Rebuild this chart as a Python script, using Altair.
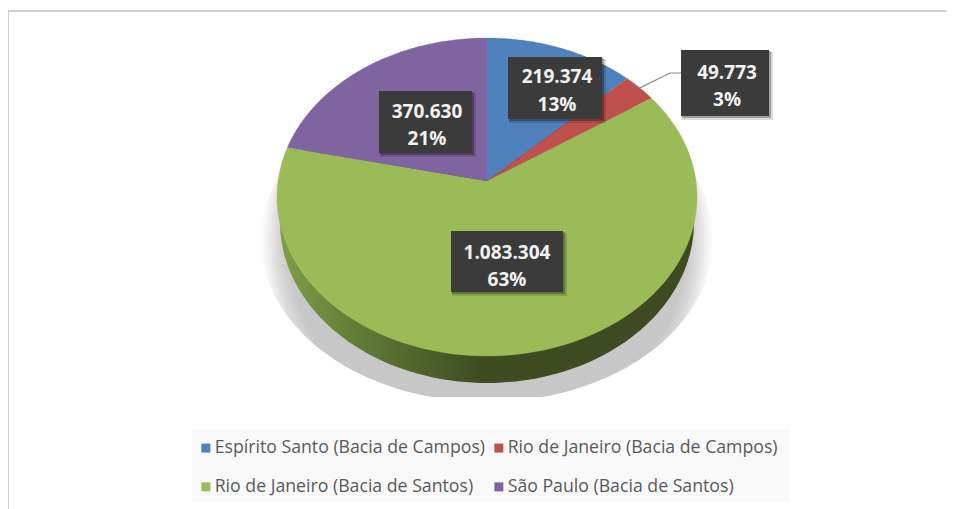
import altair as alt, numpy as np, pandas as pd

names = ["Espírito Santo (Bacia de Campos)", "Rio de Janeiro (Bacia de Campos)",
         "Rio de Janeiro (Bacia de Santos)", "São Paulo (Bacia de Santos)"]
values = [219374, 49773, 1083304, 370630]
value_labels = ["219.374", "49.773", "1.083.304", "370.630"]
pct_labels = ["13%", "3%", "63%", "21%"]
colors = ["#4f81bd", "#c0504d", "#9bbb59", "#8064a2"]
box_left = [508, 681, 451, 379]
box_right = [602, 769, 563, 472]
box_top = [57, 50, 231, 91]
box_bottom = [119, 116, 292, 153]
line1_y = [77, 73, 253, 112]
line2_y = [105, 100, 280, 139]
label_x = [557, 727, 507, 427]

W, H = 939, 501
xs = alt.Scale(domain=[8, 947], range=[0, W], nice=False, zero=False)
ys = alt.Scale(domain=[8, 509], range=[0, H], nice=False, zero=False)
X = lambda f="x": alt.X(f"{f}:Q", scale=xs, axis=None)
Y = lambda f="y": alt.Y(f"{f}:Q", scale=ys, axis=None)

# perspective view of the round top face
AX, AY, DX, DY, C = 487, 181, 209, 157.4, 0.1006
def rim(t):
    d = 1 + C * np.cos(t)
    return AX + DX * np.sin(t) / d, AY - DY * np.cos(t) / d

fracs = np.array(values) / sum(values)
edges = np.concatenate([[0], np.cumsum(fracs)]) * 2 * np.pi
rows = []
for i, n in enumerate(names):
    rows.append(dict(name=n, x=AX, y=AY, o=0))
    ts = np.linspace(edges[i], edges[i + 1], 90)
    px, py = rim(ts)
    for k in range(len(ts)):
        rows.append(dict(name=n, x=px[k], y=py[k], o=k + 1))
slices = pd.DataFrame(rows)

tt = np.linspace(0, 2 * np.pi, 181)
side = pd.DataFrame(dict(x=487 + 207 * np.sin(tt), y=222 - 161 * np.cos(tt), o=np.arange(181)))
side_grad = alt.Gradient(gradient="linear", x1=0, x2=1, y1=0, y2=0, stops=[
    alt.GradientStop(color="#7f9f47", offset=0), alt.GradientStop(color="#5f7a36", offset=0.2),
    alt.GradientStop(color="#3f4c22", offset=0.48), alt.GradientStop(color="#3e4a21", offset=1)])
side_mark = alt.Chart(side).mark_line(fill=side_grad, strokeWidth=0).encode(x=X(), y=Y(), order="o:Q")

shadow = pd.DataFrame(dict(x=487 + 226 * np.sin(tt), y=np.minimum(240 - 162 * np.cos(tt), 397), o=np.arange(181)))
shadow_grad = alt.Gradient(gradient="radial", x1=0.5, y1=0.508, r1=0, x2=0.5, y2=0.508, r2=0.5, stops=[
    alt.GradientStop(color="#c4c4c4", offset=0), alt.GradientStop(color="#c8c8c8", offset=0.88),
    alt.GradientStop(color="#dadada", offset=0.93), alt.GradientStop(color="#f0f0f0", offset=0.97),
    alt.GradientStop(color="#ffffff", offset=1)])
shadow_mark = alt.Chart(shadow).mark_line(fill=shadow_grad, strokeWidth=0).encode(x=X(), y=Y(), order="o:Q")

legend_order = [names[0], names[2], names[1], names[3]]
legend_colors = [colors[0], colors[2], colors[1], colors[3]]
pie = alt.Chart(slices).mark_line(strokeWidth=0.3).encode(
    x=X(), y=Y(), order="o:Q",
    fill=alt.Fill("name:N", scale=alt.Scale(domain=legend_order, range=legend_colors),
                  legend=alt.Legend(title=None, orient="none", legendX=189, legendY=431, columns=2,
                                    symbolType="square", symbolSize=81, symbolStrokeWidth=0,
                                    labelFont="Open Sans", labelFontSize=17.7, labelColor="#595959",
                                    labelOffset=0, columnPadding=4, rowPadding=20, labelLimit=320,
                                    padding=0)),
    stroke=alt.Stroke("name:N", scale=alt.Scale(domain=legend_order, range=legend_colors), legend=None),
)

legend_bg = pd.DataFrame(dict(x=[192], x2=[790], y=[429], y2=[502]))
legend_rect = alt.Chart(legend_bg).mark_rect(fill="#f9f9f9").encode(x=X(), x2="x2:Q", y=Y(), y2="y2:Q")

frame_h = pd.DataFrame(dict(x=[8], x2=[947], y=[11]))
frame_v = pd.DataFrame(dict(x=[8.5], y=[11], y2=[509]))
top_rule = alt.Chart(frame_h).mark_rule(color="#d0d0d0", strokeWidth=2).encode(x=X(), x2="x2:Q", y=Y())
left_rule = alt.Chart(frame_v).mark_rule(color="#d0d0d0", strokeWidth=1).encode(x=X(), y=Y(), y2="y2:Q")

mid = (edges[1] + edges[2]) / 2
lx, ly = rim(mid)
leader = pd.DataFrame(dict(x=[float(lx), 670, box_left[1]], y=[float(ly), box_top[1] + 23, box_top[1] + 23], o=[0, 1, 2]))
leader_mark = alt.Chart(leader).mark_line(color="#8c8c8c", strokeWidth=1.2).encode(x=X(), y=Y(), order="o:Q")

boxes = pd.DataFrame(dict(x=box_left, x2=box_right, y=box_top, y2=box_bottom, v=value_labels, p=pct_labels,
                          lx=label_x, l1=line1_y, l2=line2_y))
shadow2 = alt.Chart(boxes).transform_calculate(a="datum.x+1", b="datum.x2+4", c="datum.y+2", d="datum.y2+4").mark_rect(
    fill="#000000", fillOpacity=0.14).encode(x=X("a"), x2="b:Q", y=Y("c"), y2="d:Q")
shadow1 = alt.Chart(boxes).transform_calculate(a="datum.x+1", b="datum.x2+2", c="datum.y+1", d="datum.y2+2").mark_rect(
    fill="#000000", fillOpacity=0.28).encode(x=X("a"), x2="b:Q", y=Y("c"), y2="d:Q")
box = alt.Chart(boxes).mark_rect(fill="#3b3b3b").encode(x=X(), x2="x2:Q", y=Y(), y2="y2:Q")
txt = dict(font="Open Sans", fontWeight="bold", fontSize=19, color="#f2f2f2", baseline="middle")
t1 = alt.Chart(boxes).mark_text(**txt).encode(x=X("lx"), y=Y("l1"), text="v:N")
t2 = alt.Chart(boxes).mark_text(**txt).encode(x=X("lx"), y=Y("l2"), text="p:N")

chart = alt.layer(top_rule, left_rule, legend_rect, shadow_mark, side_mark, pie, leader_mark, shadow2, shadow1, box, t1, t2).properties(
    width=W, height=H, padding=0, autosize=alt.AutoSizeParams(type="none")
).configure_view(stroke=None)
chart.save("out.html", embed_options={"renderer": "svg", "actions": False})
